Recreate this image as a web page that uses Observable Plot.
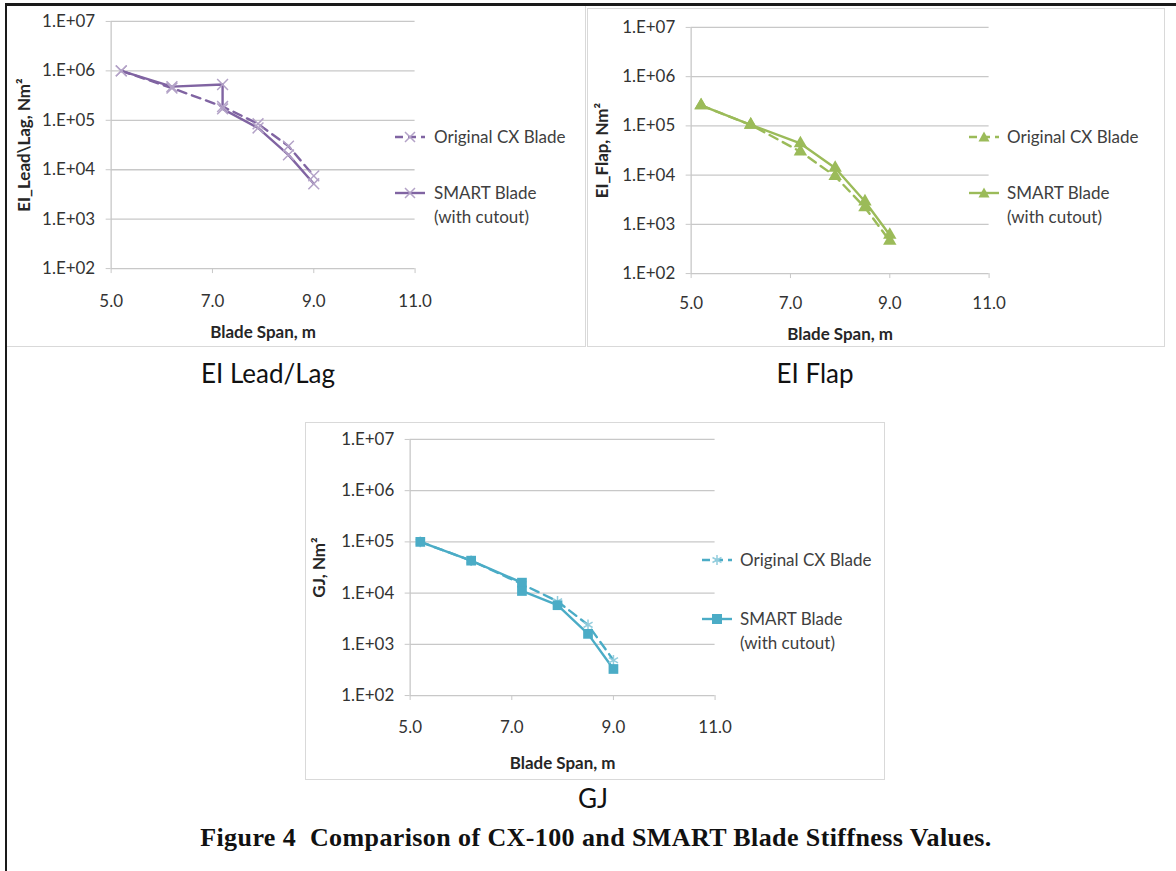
<!DOCTYPE html>
<html><head><meta charset="utf-8">
<script src="https://cdn.jsdelivr.net/npm/d3@7"></script>
<script src="https://cdn.jsdelivr.net/npm/@observablehq/plot@0.6"></script>
<style>
body{margin:0;background:#fff;width:1176px;height:871px;position:relative;overflow:hidden;font-family:Lato,sans-serif}
.outerTop{position:absolute;left:5px;top:3px;width:1171px;height:0;border-top:3px solid #1a1a1a;z-index:5}
.outerLeft{position:absolute;left:5px;top:3px;width:0;height:868px;border-left:2px solid #1a1a1a;z-index:5}
.panel{position:absolute;box-sizing:border-box;border:1px solid #d9d9d9;background:#fff}
.panel svg{position:absolute;left:0;top:0}
.leg{position:absolute;font-size:17px;color:#404040;line-height:24px;white-space:nowrap}
.leg svg{position:absolute}
.ptitle{position:absolute;font-size:26px;color:#111;transform:translateX(-50%);white-space:nowrap}
.caption{position:absolute;left:0;width:1192px;text-align:center;top:823px;font-family:"Liberation Serif",serif;font-weight:bold;font-size:26px;letter-spacing:0.4px;color:#111}
g[aria-label="y-axis label"] text, g[aria-label="x-axis label"] text{font-weight:bold;font-size:17px;fill:#262626}
</style></head>
<body>
<div class="outerTop"></div><div class="outerLeft"></div>
<div id="c1" class="panel" style="left:6px;top:5px;width:580px;height:342px"></div>
<div id="c2" class="panel" style="left:587px;top:8px;width:578px;height:339px"></div>
<div id="c3" class="panel" style="left:305px;top:422px;width:580px;height:358px"></div>
<div class="ptitle" style="left:268px;top:357px">EI Lead/Lag</div>
<div class="ptitle" style="left:815px;top:357px">EI Flap</div>
<div class="ptitle" style="left:593px;top:782px">GJ</div>
<div class="caption">Figure 4&nbsp; Comparison of CX-100 and SMART Blade Stiffness Values.</div>
<script>
// ---- data ----
const spanCX = [5.2, 6.2, 7.2, 7.9, 8.5, 9.0];
const spanSmartCutout = [5.2, 6.2, 7.2, 7.2, 7.9, 8.5, 9.0];
const spanSmartFlap = [5.2, 6.2, 7.2, 7.9, 8.5, 9.0];

const leadLagCX = [1.0e6, 4.5e5, 1.9e5, 8.5e4, 3.0e4, 7.5e3];
const leadLagSmart = [1.0e6, 4.8e5, 5.3e5, 1.7e5, 7.0e4, 2.0e4, 5.2e3];

const flapCX = [2.6e5, 1.05e5, 3.0e4, 9.5e3, 2.2e3, 4.6e2];
const flapSmart = [2.6e5, 1.05e5, 4.4e4, 1.4e4, 2.9e3, 6.1e2];

const gjCX = [1.0e5, 4.3e4, 1.5e4, 6.9e3, 2.4e3, 4.9e2];
const gjSmart = [1.0e5, 4.3e4, 1.6e4, 1.1e4, 5.8e3, 1.6e3, 3.3e2];

const xTicks = [5, 7, 9, 11];
const yTicks = [1e2, 1e3, 1e4, 1e5, 1e6, 1e7];
const seriesNames = ["Original CX Blade", "SMART Blade", "(with cutout)"];
const xLabel = "Blade Span, m";

// ---- chart builder ----
const yFmt = d => "1.E+" + String(Math.round(Math.log10(d))).padStart(2, "0");
const pts = (xs, ys) => xs.map((x, i) => ({x, y: ys[i]}));

function chart(cfg) {
  const cx = pts(cfg.xCX, cfg.yCX), sm = pts(cfg.xSM, cfg.ySM);
  return Plot.plot({
    width: cfg.w, height: cfg.h,
    marginLeft: cfg.ml, marginRight: cfg.mr, marginTop: cfg.mt, marginBottom: cfg.mb,
    style: {fontFamily: "Lato", fontSize: "17px", color: "#333", background: "transparent", overflow: "visible"},
    x: {domain: [5, 11]},
    y: {type: "log", domain: [1e2, 1e7]},
    marks: [
      Plot.gridY(yTicks, {stroke: "#c8c8c8", strokeOpacity: 1, strokeWidth: 1.3}),
      Plot.ruleX([5], {stroke: "#c8c8c8", strokeWidth: 1.3}),
      Plot.axisY(yTicks, {tickFormat: yFmt, tickSize: 5, tickPadding: 11, stroke: "#c8c8c8", fill: "#333",
        label: cfg.ylabel, labelAnchor: "center", labelArrow: "none", labelOffset: cfg.lo}),
      Plot.axisX(xTicks, {tickFormat: d3.format(".1f"), tickSize: 5, tickPadding: cfg.tp, stroke: "#c8c8c8", fill: "#333",
        label: xLabel, labelAnchor: "center", labelArrow: "none", labelOffset: cfg.xlo}),
      Plot.line(cx, {x: "x", y: "y", stroke: cfg.color, strokeWidth: 2.4, strokeDasharray: "9,6"}),
      Plot.line(sm, {x: "x", y: "y", stroke: cfg.color, strokeWidth: 2.4}),
      Plot.dot(cx, {x: "x", y: "y", ...cfg.mCX}),
      Plot.dot(sm, {x: "x", y: "y", ...cfg.mSM})
    ]
  });
}

function legend(panel, cfg) {
  const el = document.getElementById(panel);
  const mk = (y, dash, marker, text) => {
    const d = document.createElement("div");
    d.className = "leg";
    d.style.left = (cfg.sx - cfg.px) + "px";
    d.style.top = (y - cfg.py - 12) + "px";
    d.style.width = "200px"; d.style.height = "48px";
    d.innerHTML = `<svg width="32" height="24" style="left:0;top:0"><line x1="1" x2="31" y1="12" y2="12" stroke="${cfg.color}" stroke-width="2.4" ${dash ? 'stroke-dasharray="8,5"' : ''}/>${marker}</svg><div style="position:absolute;left:${cfg.tx - cfg.sx}px;top:0">${text}</div>`;
    el.appendChild(d);
  };
  mk(cfg.y1, true, cfg.m1, seriesNames[0]);
  mk(cfg.y2, false, cfg.m2, seriesNames[1] + "<br>" + seriesNames[2]);
}

const purple = "#8064A2", lav = "#B3A2C7", green = "#9BBB59", blue = "#4BACC6", lblue = "#93CDDD";

document.getElementById("c1").appendChild(chart({
  w: 580, h: 342, ml: 104, mr: 171, mt: 15, mb: 79, lo: 94, tp: 21, xlo: 70,
  xCX: spanCX, yCX: leadLagCX, xSM: spanSmartCutout, ySM: leadLagSmart,
  ylabel: "EI_Lead\\Lag, Nm²", color: purple,
  mCX: {symbol: "times", r: 5, stroke: lav, strokeWidth: 1.5},
  mSM: {symbol: "times", r: 5, stroke: lav, strokeWidth: 1.5}
}));
document.getElementById("c2").appendChild(chart({
  w: 578, h: 339, ml: 103, mr: 176, mt: 18, mb: 74, lo: 96, tp: 18, xlo: 67,
  xCX: spanCX, yCX: flapCX, xSM: spanSmartFlap, ySM: flapSmart,
  ylabel: "EI_Flap, Nm²", color: green,
  mCX: {symbol: "triangle", r: 5, fill: green, stroke: "none"},
  mSM: {symbol: "triangle", r: 5, fill: green, stroke: "none"}
}));
document.getElementById("c3").appendChild(chart({
  w: 580, h: 358, ml: 104, mr: 170, mt: 16, mb: 85, lo: 98, tp: 21, xlo: 74,
  xCX: spanCX, yCX: gjCX, xSM: spanSmartCutout, ySM: gjSmart,
  ylabel: "GJ, Nm²", color: blue,
  mCX: {symbol: "asterisk", r: 5, stroke: lblue, strokeWidth: 1.5},
  mSM: {symbol: "square", r: 5.5, fill: blue, stroke: "none"}
}));

const timesM = c => `<path d="M11,7 L21,17 M21,7 L11,17" stroke="${c}" stroke-width="1.5"/>`;
const triM = c => `<path d="M16,6.5 L21.5,16.5 L10.5,16.5Z" fill="${c}"/>`;
const astM = c => `<path d="M16,7 L16,17 M11.5,9.5 L20.5,14.5 M20.5,9.5 L11.5,14.5" stroke="${c}" stroke-width="1.5"/>`;
const sqM = c => `<rect x="11" y="7" width="10" height="10" fill="${c}"/>`;

legend("c1", {px: 6, py: 5, sx: 393, tx: 433, y1: 136, y2: 192, color: purple, m1: timesM(lav), m2: timesM(lav)});
legend("c2", {px: 587, py: 8, sx: 967, tx: 1006, y1: 136, y2: 192, color: green, m1: triM(green), m2: triM(green)});
legend("c3", {px: 305, py: 422, sx: 700, tx: 739, y1: 559, y2: 618, color: blue, m1: astM(lblue), m2: sqM(blue)});
</script>
</body></html>
